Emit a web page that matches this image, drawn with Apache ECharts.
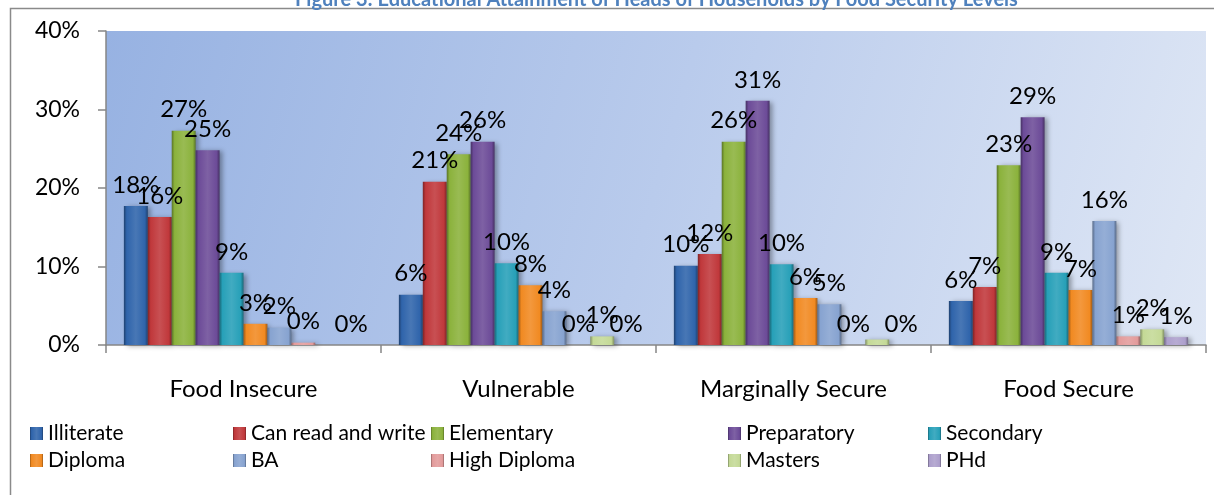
<!DOCTYPE html>
<html>
<head>
<meta charset="utf-8">
<script src="https://cdn.jsdelivr.net/npm/echarts@6/dist/echarts.min.js"></script>
<style>
  html, body { margin: 0; padding: 0; background: #fff; }
  #chart { width: 1214px; height: 495px; }
</style>
</head>
<body>
<div id="chart"></div>
<script>
// food security levels
var categories = ['Food Insecure', 'Vulnerable', 'Marginally Secure', 'Food Secure'];

// share of heads of households (%) per education level
var illiterate  = [17.7, 6.4, 10.1, 5.6];
var canRead     = [16.3, 20.8, 11.6, 7.4];
var elementary  = [27.3, 24.3, 25.9, 22.9];
var preparatory = [24.8, 25.9, 31.1, 29.0];
var secondary   = [9.2, 10.4, 10.3, 9.2];
var diploma     = [2.7, 7.6, 6.0, 7.0];
var ba          = [2.2, 4.3, 5.2, 15.8];
var highDiploma = [0.3, 0, 0, 1.1];
var masters     = [null, 1.1, 0.7, 2.0];
var phd         = [0, 0, 0, 1.0];

var yTicks = [0, 10, 20, 30, 40];

var seriesNames = ['Illiterate', 'Can read and write', 'Elementary', 'Preparatory', 'Secondary',
                   'Diploma', 'BA', 'High Diploma', 'Masters', 'PHd'];
var seriesData = [illiterate, canRead, elementary, preparatory, secondary,
                  diploma, ba, highDiploma, masters, phd];
var colors = ['#2f64ab', '#c0383b', '#8bb23c', '#6c4b98', '#27a0b8',
              '#f18a22', '#87a3d0', '#e39b9b', '#c4d996', '#ad9fcc'];

// labels Excel left off
var hiddenLabels = { 'Masters': [2] };

function shade(hex, f) {
  var n = parseInt(hex.slice(1), 16);
  var r = (n >> 16) & 255, g = (n >> 8) & 255, b = n & 255;
  function m(v) { return Math.max(0, Math.min(255, Math.round(f < 0 ? v * (1 + f) : v + (255 - v) * f))); }
  return 'rgb(' + m(r) + ',' + m(g) + ',' + m(b) + ')';
}

function barFill(c) {
  return new echarts.graphic.LinearGradient(0, 0, 1, 0, [
    { offset: 0, color: shade(c, -0.35) },
    { offset: 0.12, color: c },
    { offset: 0.5, color: shade(c, 0.12) },
    { offset: 0.88, color: c },
    { offset: 1, color: shade(c, -0.35) }
  ]);
}

var chart = echarts.init(document.getElementById('chart'));

var series = seriesNames.map(function (name, i) {
  var hide = hiddenLabels[name] || [];
  return {
    name: name,
    type: 'bar',
    barGap: '0%',
    barCategoryGap: '13%',
    itemStyle: {
      color: barFill(colors[i]),
      shadowColor: 'rgba(0,0,0,0.35)',
      shadowBlur: 5,
      shadowOffsetX: 3,
      shadowOffsetY: 1
    },
    label: {
      show: true,
      position: 'top',
      distance: 9,
      fontFamily: 'Lato',
      fontSize: 24,
      color: '#000',
      formatter: function (p) { return Math.round(p.value) + '%'; }
    },
    data: seriesData[i].map(function (v, j) {
      if (hide.indexOf(j) >= 0) return { value: v, label: { show: false } };
      return v;
    })
  };
});

var legendCols = [25, 228, 426, 723, 923];
var legends = legendCols.map(function (x, k) {
  return {
    left: x,
    top: 416,
    orient: 'vertical',
    itemWidth: 13,
    itemHeight: 13,
    itemGap: 2,
    icon: 'rect',
    textStyle: { fontFamily: 'Lato', fontSize: 21, color: '#000', lineHeight: 25 },
    data: [seriesNames[k], seriesNames[k + 5]]
  };
});

chart.setOption({
  animation: false,
  title: {
    text: 'Figure 3: Educational Attainment of Heads of Households by Food Security Levels',
    left: 290,
    top: -15,
    textStyle: { fontFamily: 'Lato', fontSize: 20, fontWeight: 'bold', color: '#4f81bd' }
  },
  graphic: [{
    type: 'rect',
    shape: { x: 10.5, y: 8.5, width: 1220, height: 500 },
    style: { fill: 'none', stroke: '#8a8a8a', lineWidth: 1.5 },
    silent: true
  }],
  legend: legends,
  grid: {
    left: 106,
    right: 8,
    top: 31,
    bottom: 150,
    show: true,
    borderWidth: 0,
    backgroundColor: new echarts.graphic.LinearGradient(0, 0, 1, 1, [
      { offset: 0, color: '#97b2e2' },
      { offset: 0.5, color: '#b9cbec' },
      { offset: 1, color: '#dfe7f5' }
    ])
  },
  xAxis: {
    type: 'category',
    data: categories,
    axisLine: { lineStyle: { color: '#868686', width: 1.5 } },
    axisTick: { show: true, length: 8, interval: 0, lineStyle: { color: '#868686', width: 1.5 } },
    axisLabel: { fontFamily: 'Lato', fontSize: 24, color: '#000', margin: 32 }
  },
  yAxis: {
    type: 'value',
    min: yTicks[0],
    max: yTicks[yTicks.length - 1],
    interval: 10,
    axisLine: { show: true, lineStyle: { color: '#868686', width: 1.5 } },
    axisTick: { show: true, length: 8, lineStyle: { color: '#868686', width: 1.5 } },
    splitLine: { show: false },
    axisLabel: {
      fontFamily: 'Lato', fontSize: 23, color: '#000', margin: 26,
      formatter: function (v) { return v + '%'; }
    }
  },
  series: series
});
</script>
</body>
</html>
